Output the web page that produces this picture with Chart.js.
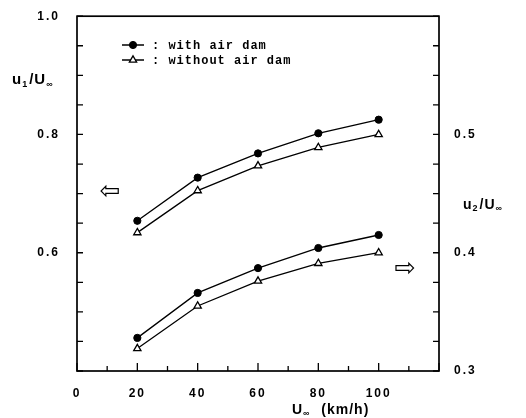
<!DOCTYPE html>
<html>
<head>
<meta charset="utf-8">
<script src="https://cdn.jsdelivr.net/npm/chart.js@4/dist/chart.umd.min.js"></script>
<style>
html,body{margin:0;padding:0;background:#fff;}
#wrap{width:526px;height:418px;position:relative;}
</style>
</head>
<body>
<div id="wrap"><canvas id="c" width="526" height="418"></canvas></div>
<script>
// ---- data ----
const speeds = [20, 40, 60, 80, 100];               // U∞ (km/h)
const u1WithDam = [0.654, 0.727, 0.768, 0.802, 0.825];     // left axis
const u1WithoutDam = [0.634, 0.705, 0.747, 0.778, 0.800];  // left axis
const u2WithDam = [0.328, 0.366, 0.387, 0.404, 0.415];     // right axis
const u2WithoutDam = [0.319, 0.355, 0.376, 0.391, 0.400];  // right axis
const seriesNames = ['with air dam', 'without air dam'];
const xTickLabels = [0, 20, 40, 60, 80, 100];
const leftTickLabels = [0.6, 0.8, 1.0];
const rightTickLabels = [0.3, 0.4, 0.5];

const pts = (ys) => speeds.map((x, i) => ({x: x, y: ys[i]}));
const has = (arr, v) => arr.some(a => Math.abs(a - v) < 1e-6);

const tickFont = {family: 'Liberation Sans', weight: 'bold', size: 12};

const styleWith = {borderColor: '#000', backgroundColor: '#000', pointStyle: 'circle', pointRadius: 3.6, pointBackgroundColor: '#000', pointBorderColor: '#000', borderWidth: 1.3, pointBorderWidth: 1};
const styleWithout = {borderColor: '#000', backgroundColor: '#fff', pointStyle: 'triangle', pointRadius: 4.2, pointBackgroundColor: '#fff', pointBorderColor: '#000', borderWidth: 1.3, pointBorderWidth: 1.3};

function drawRich(ctx, parts, x, y, size) {
  let cx = x;
  parts.forEach(p => {
    const s = p.sub ? Math.round(size * 0.62) : size;
    ctx.font = 'bold ' + s + 'px "Liberation Sans"';
    ctx.fillText(p.t, cx, p.sub ? y + size * 0.28 : y);
    cx += ctx.measureText(p.t).width + (p.sub ? 1 : 0);
  });
}

const decor = {
  id: 'decor',
  beforeDraw(chart) {
    chart.ctx.letterSpacing = '2px';
  },
  afterDraw(chart) {
    const ctx = chart.ctx;
    const a = chart.chartArea;
    const sx = chart.scales.x, sl = chart.scales.yL, sr = chart.scales.yR;
    ctx.save();
    ctx.letterSpacing = '0px';
    ctx.strokeStyle = '#000';
    // frame
    ctx.lineWidth = 1.7;
    ctx.strokeRect(a.left, a.top, a.right - a.left, a.bottom - a.top);
    // inward tick marks
    ctx.lineWidth = 1.3;
    ctx.beginPath();
    sl.ticks.forEach(t => { const y = sl.getPixelForValue(t.value); ctx.moveTo(a.left, y); ctx.lineTo(a.left + 6, y); });
    sr.ticks.forEach(t => { const y = sr.getPixelForValue(t.value); ctx.moveTo(a.right, y); ctx.lineTo(a.right - 6, y); });
    sx.ticks.forEach(t => {
      const x = sx.getPixelForValue(t.value);
      const len = (Math.round(t.value) % 20 === 0) ? 8 : 5;
      ctx.moveTo(x, a.bottom); ctx.lineTo(x, a.bottom - len);
    });
    ctx.stroke();

    ctx.fillStyle = '#000';
    ctx.textBaseline = 'middle';
    ctx.textAlign = 'left';
    // axis titles
    ctx.letterSpacing = '1px';
    drawRich(ctx, [{t:'u'},{t:'1',sub:true},{t:'/U'},{t:'∞',sub:true}], 12, 80, 15);
    drawRich(ctx, [{t:'u'},{t:'2',sub:true},{t:'/U'},{t:'∞',sub:true}], 463, 205, 14);
    drawRich(ctx, [{t:'U'},{t:'∞',sub:true},{t:'  (km/h)'}], 292, 410, 14);

    // arrows
    ctx.letterSpacing = '0px';
    ctx.font = '25px "DejaVu Sans"';
    ctx.textAlign = 'center';
    ctx.fillText('⇦', 110, 192);
    ctx.fillText('⇨', 405, 269);

    // legend
    const lx0 = 122, lx1 = 144, lxm = 133;
    const rows = [{y: 45, st: styleWith, name: seriesNames[0]}, {y: 60, st: styleWithout, name: seriesNames[1]}];
    rows.forEach(r => {
      ctx.lineWidth = 1.5;
      ctx.strokeStyle = '#000';
      ctx.beginPath(); ctx.moveTo(lx0, r.y); ctx.lineTo(lx1, r.y); ctx.stroke();
      ctx.fillStyle = r.st.pointBackgroundColor;
      ctx.lineWidth = r.st.pointBorderWidth;
      Chart.helpers.drawPoint(ctx, {pointStyle: r.st.pointStyle, radius: r.st.pointRadius, borderWidth: r.st.pointBorderWidth, rotation: 0}, lxm, r.y);
      ctx.fillStyle = '#000';
      ctx.textAlign = 'left';
      ctx.letterSpacing = '1px';
      ctx.font = 'bold 12px "Liberation Mono"';
      ctx.fillText(': ' + r.name, 152, r.y + 1);
      ctx.letterSpacing = '0px';
    });
    ctx.restore();
  }
};

new Chart(document.getElementById('c'), {
  type: 'line',
  data: {
    datasets: [
      Object.assign({label: seriesNames[0] + ' (u1)', data: pts(u1WithDam), yAxisID: 'yL'}, styleWith),
      Object.assign({label: seriesNames[1] + ' (u1)', data: pts(u1WithoutDam), yAxisID: 'yL'}, styleWithout),
      Object.assign({label: seriesNames[0] + ' (u2)', data: pts(u2WithDam), yAxisID: 'yR'}, styleWith),
      Object.assign({label: seriesNames[1] + ' (u2)', data: pts(u2WithoutDam), yAxisID: 'yR'}, styleWithout)
    ]
  },
  options: {
    responsive: false,
    animation: false,
    devicePixelRatio: 1,
    layout: {padding: {left: 0, right: 0, top: 12, bottom: 0}},
    plugins: {legend: {display: false}, tooltip: {enabled: false}},
    elements: {line: {tension: 0}},
    scales: {
      x: {
        type: 'linear', min: 0, max: 120,
        grid: {display: false}, border: {display: false},
        ticks: {stepSize: 10, autoSkip: false, maxRotation: 0, padding: 7, color: '#000', font: tickFont,
          callback: v => has(xTickLabels, v) ? String(Math.round(v)) : ''},
        afterFit: s => { s.height = 47; }
      },
      yL: {
        type: 'linear', position: 'left', min: 0.4, max: 1.0,
        grid: {display: false}, border: {display: false},
        ticks: {stepSize: 0.05, autoSkip: false, padding: 9, color: '#000', font: tickFont,
          callback: v => has(leftTickLabels, v) ? (Math.round(v * 10) / 10).toFixed(1) : ''},
        afterFit: s => { s.width = 77; }
      },
      yR: {
        type: 'linear', position: 'right', min: 0.3, max: 0.6,
        grid: {display: false}, border: {display: false},
        ticks: {stepSize: 0.025, autoSkip: false, padding: 7, color: '#000', font: tickFont,
          callback: v => has(rightTickLabels, v) ? (Math.round(v * 10) / 10).toFixed(1) : ''},
        afterFit: s => { s.width = 87; }
      }
    }
  },
  plugins: [decor]
});
</script>
</body>
</html>
